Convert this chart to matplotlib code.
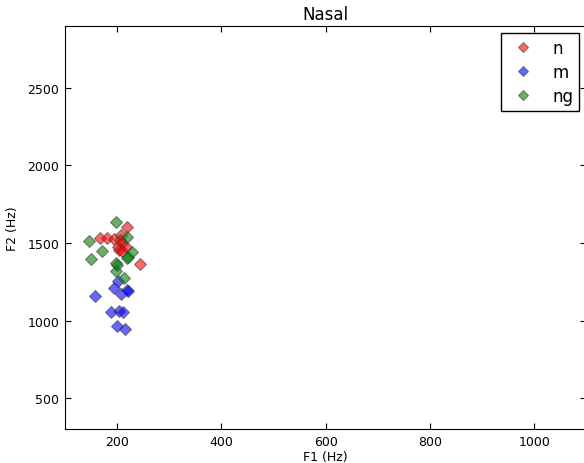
import matplotlib
matplotlib.use("Agg")
import matplotlib.pyplot as plt

# Formant measurements (Hz) for nasal consonants
n_f1 = [219, 167, 181, 194, 207, 205, 209, 202, 204, 217, 210, 244]
n_f2 = [1605, 1532, 1530, 1524, 1554, 1519, 1502, 1472, 1455, 1472, 1450, 1365]

m_f1 = [202, 195, 207, 219, 222, 158, 188, 203, 211, 201, 215]
m_f2 = [1252, 1210, 1170, 1197, 1188, 1160, 1058, 1063, 1053, 968, 947]

ng_f1 = [199, 146, 171, 151, 220, 229, 220, 198, 199, 214, 222, 200]
ng_f2 = [1635, 1511, 1446, 1397, 1537, 1440, 1403, 1370, 1322, 1272, 1412, 1360]

series = [("n", n_f1, n_f2, "r"), ("m", m_f1, m_f2, "b"), ("ng", ng_f1, ng_f2, "g")]

plt.rcParams["font.family"] = "DejaVu Sans"
fig = plt.figure(figsize=(5.84, 4.64), dpi=100)
ax = fig.add_axes([0.111, 0.073, 0.893, 0.869])

for label, f1, f2, color in series:
    ax.plot(f1, f2, linestyle="none", marker="D", markersize=6.0,
            color=color, alpha=0.6, markeredgecolor="0.25",
            markeredgewidth=0.8, label=label)

ax.set_xlim(100, 1100)
ax.set_ylim(300, 2900)
ax.set_xticks([200, 400, 600, 800, 1000])
ax.set_yticks([500, 1000, 1500, 2000, 2500])
ax.tick_params(direction="in", top=True, right=True, length=4, labelsize=9, pad=4)
ax.set_xlabel("F1 (Hz)", fontsize=9, labelpad=2)
ax.set_ylabel("F2 (Hz)", fontsize=9, labelpad=6)
ax.set_title("Nasal", fontsize=12, pad=5)

leg = ax.legend(loc="upper right", numpoints=1, fontsize=12, fancybox=False,
                framealpha=1, edgecolor="black", borderaxespad=0.45,
                borderpad=0.35, labelspacing=0.36, markerscale=0.8,
                handlelength=1.9, handletextpad=0.8)
leg.get_frame().set_linewidth(1.0)

fig.savefig("out.png", dpi=100)
